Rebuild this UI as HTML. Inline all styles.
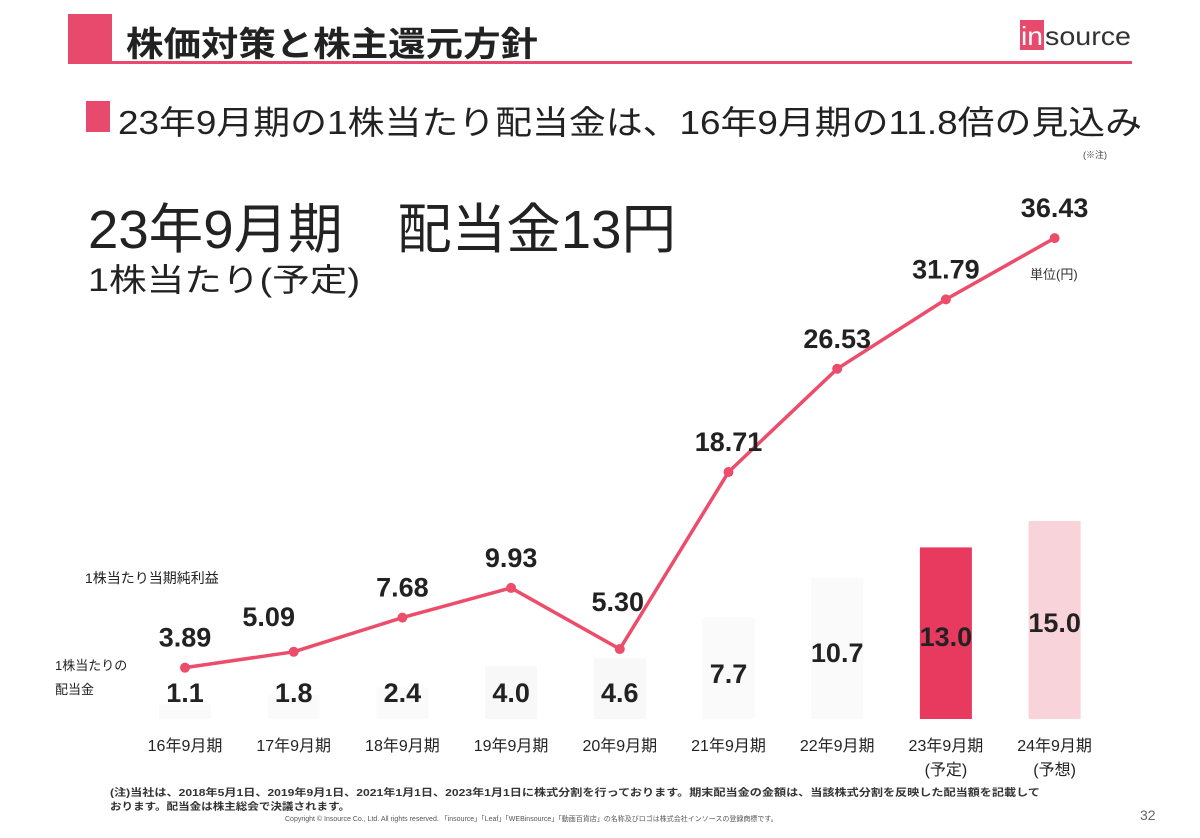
<!DOCTYPE html>
<html><head><meta charset="utf-8"><style>
html,body{margin:0;padding:0;background:#fff;}
svg{display:block;font-family:"Liberation Sans","Noto Sans CJK JP",sans-serif;}
</style></head><body>
<svg width="1200" height="838" viewBox="0 0 1200 838">
<rect x="0" y="0" width="1200" height="838" fill="#fff"/>
<g>
<rect x="68" y="14" width="44" height="49" fill="#e74a6c"/>
<rect x="68" y="61" width="1064" height="3" fill="#e74a6c"/>
<text x="126" y="56" font-size="34" font-weight="bold" fill="#222" textLength="412" lengthAdjust="spacingAndGlyphs">株価対策と株主還元方針</text>
<rect x="1020" y="20" width="24" height="30" fill="#e74a6c"/>
<text x="1021" y="45" font-size="26" fill="#fff" textLength="22" lengthAdjust="spacingAndGlyphs">in</text>
<text x="1045" y="45" font-size="26" fill="#333" textLength="86" lengthAdjust="spacingAndGlyphs">source</text>
</g>
<rect x="86" y="101" width="24" height="31" fill="#e74a6c"/>
<text x="118" y="134" font-size="33" fill="#222" textLength="1024" lengthAdjust="spacingAndGlyphs">23年9月期の1株当たり配当金は、16年9月期の11.8倍の見込み</text>
<text x="1083" y="158" font-size="9" fill="#444">(※注)</text>
<text x="88" y="248" font-size="54" fill="#222" textLength="588" lengthAdjust="spacingAndGlyphs">23年9月期　配当金13円</text>
<text x="88" y="291" font-size="32" fill="#222" textLength="272" lengthAdjust="spacingAndGlyphs">1株当たり(予定)</text>
<text x="1030" y="279" font-size="13" fill="#333">単位(円)</text>
<text x="85" y="583" font-size="14" fill="#222">1株当たり当期純利益</text>
<text x="55" y="670" font-size="13" fill="#222">1株当たりの</text>
<text x="55" y="694" font-size="13" fill="#222">配当金</text>
<g id="chart"></g>
<text x="110" y="796" font-size="10" font-weight="bold" fill="#333" textLength="930" lengthAdjust="spacingAndGlyphs">(注)当社は、2018年5月1日、2019年9月1日、2021年1月1日、2023年1月1日に株式分割を行っております。期末配当金の金額は、当該株式分割を反映した配当額を記載して</text>
<text x="110" y="810" font-size="10" font-weight="bold" fill="#333" textLength="240" lengthAdjust="spacingAndGlyphs">おります。配当金は株主総会で決議されます。</text>
<text x="285" y="821" font-size="7" fill="#555">Copyright © Insource Co., Ltd. All rights reserved. 「insource」「Leaf」「WEBinsource」「動画百貨店」の名称及びロゴは株式会社インソースの登録商標です。</text>
<text x="1140" y="820" font-size="14" fill="#666">32</text>
</svg>
<script>
const categories = ["16年9月期","17年9月期","18年9月期","19年9月期","20年9月期","21年9月期","22年9月期","23年9月期","24年9月期"];
const subLabels = ["","","","","","","","(予定)","(予想)"];
const dividends = [1.1,1.8,2.4,4.0,4.6,7.7,10.7,13.0,15.0];
const dividendLabels = ["1.1","1.8","2.4","4.0","4.6","7.7","10.7","13.0","15.0"];
const eps = [3.89,5.09,7.68,9.93,5.30,18.71,26.53,31.79,36.43];
const epsLabels = ["3.89","5.09","7.68","9.93","5.30","18.71","26.53","31.79","36.43"];
const barColors = ["#fbfafa","#fbfafa","#fbfafa","#f9f8f8","#f9f8f8","#fbfafa","#fbfafa","#e8395f","#f9d3da"];

const NS="http://www.w3.org/2000/svg";
const g=document.getElementById('chart');
const x0=185, step=108.7, y0=719, k=13.2;
const xs=i=>x0+i*step;
const ys=v=>y0-v*k;
function mk(t,a){const e=document.createElementNS(NS,t);for(const n in a)e.setAttribute(n,a[n]);g.appendChild(e);return e;}

dividends.forEach((v,i)=>{
  const r=mk('rect',{x:xs(i)-26,y:ys(v),width:52,height:v*k,fill:barColors[i]});
  
  
});
dividends.forEach((v,i)=>{
  const ly=Math.min(692, 692-(v-5)*7)+10;
  const t=mk('text',{x:xs(i),y:ly,'font-size':27,'font-weight':'bold','text-anchor':'middle',fill:'#222'});
  t.textContent=dividendLabels[i];
  
  
});
const pts=eps.map((v,i)=>xs(i)+','+ys(v)).join(' ');
const pl=mk('polyline',{points:pts,fill:'none',stroke:'#ec4d6a','stroke-width':3.5,'stroke-linejoin':'round'});


eps.forEach((v,i)=>{
  const c=mk('circle',{cx:xs(i),cy:ys(v),r:5,fill:'#ec4d6a'});
  
  
  const off=(i===4)?48:(i===1?36:31);
  const t=mk('text',{x:xs(i)+(i===4?-2:(i===1?-25:0)),y:ys(v)-off+10,'font-size':27,'font-weight':'bold','text-anchor':'middle',fill:'#222'});
  t.textContent=epsLabels[i];
  
  
});
categories.forEach((c,i)=>{
  const t=mk('text',{x:xs(i),y:751,'font-size':16,'text-anchor':'middle',fill:'#222'});
  t.textContent=c;
  
  
  if(subLabels[i]){
    const s=mk('text',{x:xs(i),y:775,'font-size':16,'text-anchor':'middle',fill:'#222'});
    s.textContent=subLabels[i];
    
    
  }
});
</script>
</body></html>
